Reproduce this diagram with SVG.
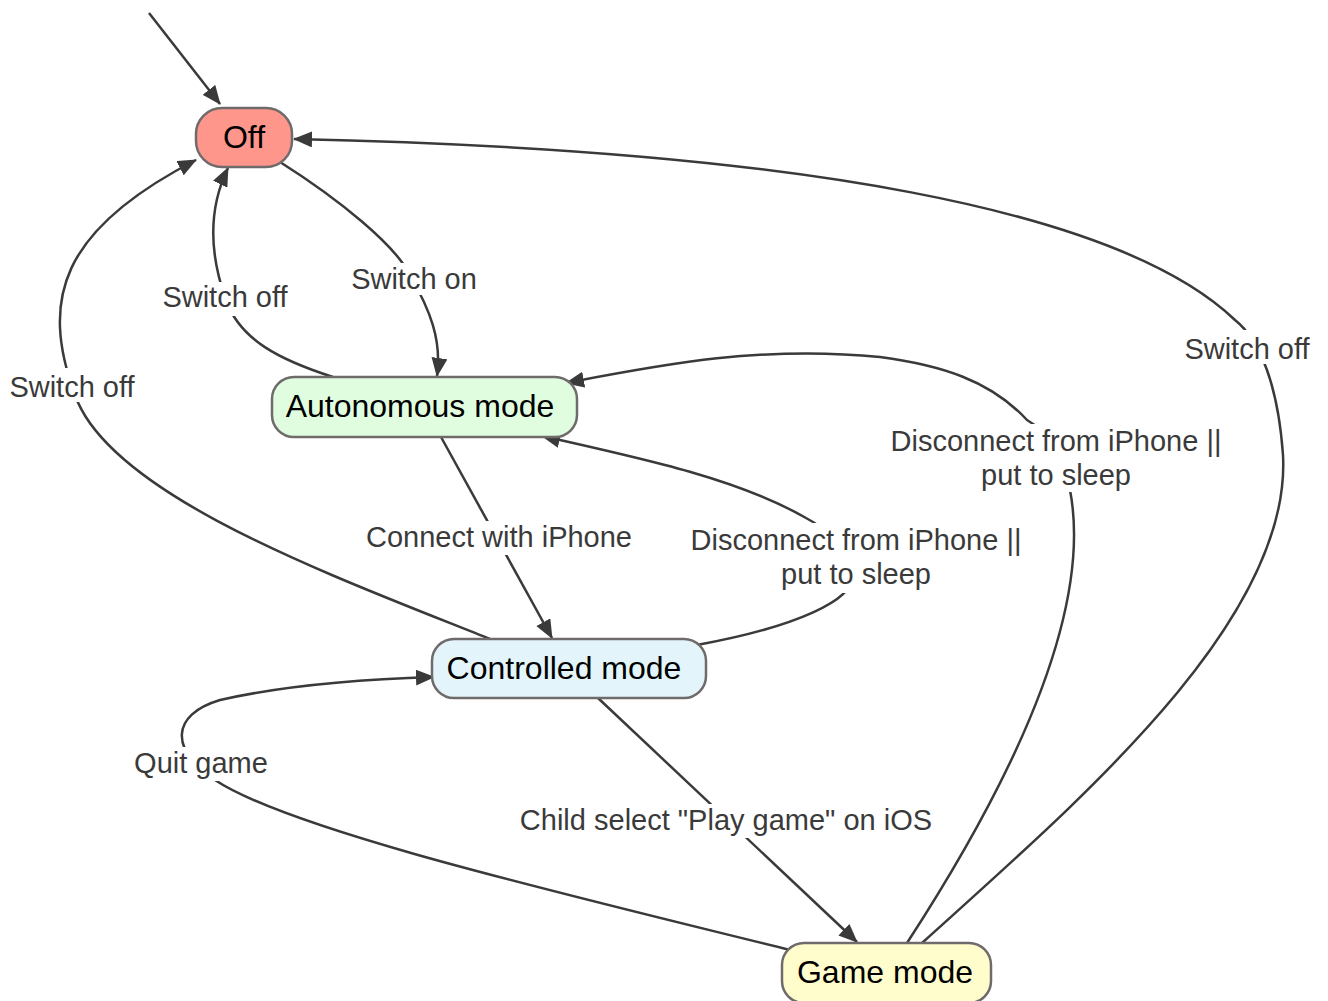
<svg xmlns="http://www.w3.org/2000/svg" width="1328" height="1001" viewBox="0 0 1328 1001">
<style>
.node rect{stroke:#706b6b;stroke-width:2.5}
.ntext{font-family:"Liberation Sans",Arial,sans-serif;font-size:32px;fill:#000;text-anchor:middle}
.edge{fill:none;stroke:#3a3a3a;stroke-width:2.5}
.lbg{fill:#fff}
.ltext{font-family:"Liberation Sans",Arial,sans-serif;font-size:29px;fill:#3a3a3a;text-anchor:middle}
</style>
<defs>
<marker id="arr" markerUnits="userSpaceOnUse" markerWidth="20" markerHeight="16" refX="18" refY="8" orient="auto">
<path d="M0,0 L19,8 L0,16 Z" fill="#3a3a3a"/>
</marker>
</defs>
<rect width="1328" height="1001" fill="#fff"/>
<g id="connectors">
<path class="edge" marker-end="url(#arr)" d="M149,13 L220,104"/>
<path class="edge" marker-end="url(#arr)" d="M280,162 C340,200 395,245 410,275 C430,310 442,340 437,376"/>
<path class="edge" marker-end="url(#arr)" d="M333,377 C280,360 240,340 226,300 C208,250 210,205 228,168"/>
<path class="edge" marker-end="url(#arr)" d="M490,639 C330,575 110,495 75,395 C40,300 60,230 196,160"/>
<path class="edge" marker-end="url(#arr)" d="M922,943 C1080,800 1292,620 1283,455 C1278,385 1260,340 1235,320 C1120,210 800,150 294,139"/>
<path class="edge" marker-end="url(#arr)" d="M907,943 C1000,800 1095,620 1070,490 C1060,450 1045,430 1027,420 C990,380 940,365 880,357 C760,345 660,365 566,383"/>
<path class="edge" marker-end="url(#arr)" d="M697,645 C790,628 862,600 852,570 C842,542 825,528 806,518 C740,480 650,460 542,436"/>
<path class="edge" marker-end="url(#arr)" d="M441,437 L552,638"/>
<path class="edge" marker-end="url(#arr)" d="M598,698 L857,942"/>
<path class="edge" marker-end="url(#arr)" d="M790,950 C560,893 290,830 215,780 C170,750 170,715 220,700 C290,684 370,679 434,677"/>
</g>
<g id="labels">
<rect class="lbg" x="349" y="263" width="130" height="32"/>
<text class="ltext" x="414" y="289">Switch on</text>
<rect class="lbg" x="160" y="282" width="130" height="34"/>
<text class="ltext" x="225" y="307">Switch off</text>
<rect class="lbg" x="7" y="368" width="130" height="34"/>
<text class="ltext" x="72" y="397">Switch off</text>
<rect class="lbg" x="1182" y="330" width="130" height="34"/>
<text class="ltext" x="1247" y="359">Switch off</text>
<rect class="lbg" x="888" y="424" width="336" height="68"/>
<text class="ltext" x="1056" y="451">Disconnect from iPhone ||</text>
<text class="ltext" x="1056" y="485">put to sleep</text>
<rect class="lbg" x="688" y="523" width="336" height="70"/>
<text class="ltext" x="856" y="550">Disconnect from iPhone ||</text>
<text class="ltext" x="856" y="584">put to sleep</text>
<rect class="lbg" x="363" y="521" width="272" height="34"/>
<text class="ltext" x="499" y="547">Connect with iPhone</text>
<rect class="lbg" x="516" y="804" width="420" height="34"/>
<text class="ltext" x="726" y="830">Child select "Play game" on iOS</text>
<rect class="lbg" x="132" y="747" width="138" height="34"/>
<text class="ltext" x="201" y="773">Quit game</text>
</g>
<g id="node-off" class="node">
<rect x="196" y="108" width="96" height="59" rx="26" fill="#ff968c"/>
<text class="ntext" x="244" y="148">Off</text>
</g>
<g id="node-autonomous" class="node">
<rect x="272" y="377" width="305" height="60" rx="22" fill="#e0fde0"/>
<text class="ntext" x="420" y="417">Autonomous mode</text>
</g>
<g id="node-controlled" class="node">
<rect x="432" y="639" width="274" height="59" rx="22" fill="#e3f5fb"/>
<text class="ntext" x="564" y="679">Controlled mode</text>
</g>
<g id="node-game" class="node">
<rect x="782" y="943" width="209" height="60" rx="22" fill="#fffdcc"/>
<text class="ntext" x="885" y="983">Game mode</text>
</g>
</svg>
